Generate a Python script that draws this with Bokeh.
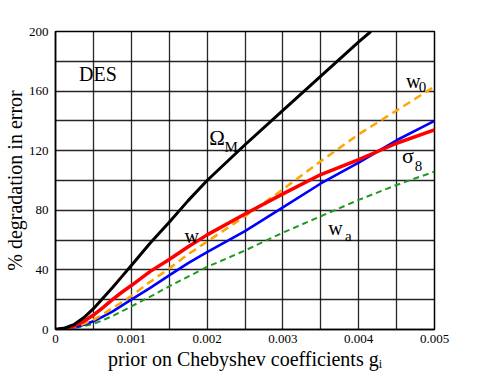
from bokeh.plotting import figure
from bokeh.models import Range1d, FixedTicker
from bokeh.core.properties import value
from bokeh.embed import file_html
from bokeh.resources import INLINE

# ---- data ----
x_vals = [0, 0.000125, 0.00025, 0.000375, 0.0005, 0.000625, 0.00075, 0.000875, 0.001,
          0.00125, 0.0015, 0.00175, 0.002, 0.0025, 0.003, 0.0035, 0.004, 0.0045, 0.005]
omega_x = [0, 0.000125, 0.00025, 0.000375, 0.0005, 0.000625, 0.00075, 0.000875, 0.001,
           0.00125, 0.0015, 0.00175, 0.002, 0.0025, 0.003, 0.0035, 0.004, 0.00416]
omega_m = [0, 1, 3.5, 8, 14, 21, 28, 35.5, 43, 58, 72, 86.5, 100, 124, 147, 170, 193, 200]
red_w = [0, 0.7, 2.5, 5.5, 9.7, 14.7, 20, 25, 29.5, 39, 47, 55.5, 63.5, 77.5, 91, 104, 114, 125, 134]
orange_w0 = [0, 0.5, 1.8, 3.8, 6.5, 10.2, 14.2, 18.3, 22.5, 32, 41, 50.5, 59, 76, 94, 113, 131, 147, 163]
blue_s8 = [0, 0.4, 1.5, 3.2, 5.5, 8.7, 12, 16, 20, 28, 36.3, 44.5, 52, 66, 82, 98, 112, 127, 140]
green_wa = [0, 0.3, 1, 2.2, 3.8, 6.2, 9, 12.2, 15.5, 22, 29, 35.5, 42, 53, 65, 76, 87, 97, 106]

x_ticks = [0, 0.001, 0.002, 0.003, 0.004, 0.005]
x_tick_labels = ["0", "0.001", "0.002", "0.003", "0.004", "0.005"]
x_grid = [0.0005 * i for i in range(11)]
y_ticks = [0, 40, 80, 120, 160, 200]
y_grid = [20 * i for i in range(11)]

# curve labels: main text and subscripts
main_text = ["DES", "Ω", "w", "σ", "w", "w"]
main_x = [0.000311, 0.00203, 0.004623, 0.004571, 0.003597, 0.001701]
main_y = [171.7, 128.3, 166.9, 116.6, 68.3, 62.5]
main_size = ["20px", "21px", "20px", "22px", "20px", "20px"]
sub_text = ["M", "0", "8", "a"]
sub_x = [0.002228, 0.004792, 0.00474, 0.003818]
sub_y = [122.3, 162.8, 109.7, 62.8]

FONT = "Liberation Serif"

p = figure(width=469, height=372, output_backend="svg", toolbar_location=None,
           x_range=Range1d(0, 0.005), y_range=Range1d(0, 200),
           min_border_left=0, min_border_right=35, min_border_top=31, min_border_bottom=0)
p.background_fill_color = "white"
p.border_fill_color = "white"
p.outline_line_color = "black"
p.outline_line_width = 1.5
p.outline_line_alpha = 1

for ax in (p.xaxis[0], p.yaxis[0]):
    ax.major_tick_in = 0
    ax.major_tick_out = 0
    ax.minor_tick_in = 0
    ax.minor_tick_out = 0
    ax.axis_line_color = "black"
    ax.axis_line_width = 1.5
    ax.major_label_text_font = FONT
    ax.major_label_text_font_size = "13px"
    ax.major_label_text_color = "black"
    ax.axis_label_text_font = FONT
    ax.axis_label_text_font_size = "20px"
    ax.axis_label_text_font_style = "normal"
    ax.axis_label_text_color = "black"

p.xaxis[0].ticker = FixedTicker(ticks=x_ticks)
p.xaxis[0].major_label_overrides = {t: s for t, s in zip(x_ticks, x_tick_labels)}
p.xaxis[0].major_label_standoff = 5
p.xaxis[0].axis_label = "prior on Chebyshev coefficients gᵢ"
p.xaxis[0].axis_label_standoff = 2
p.yaxis[0].ticker = FixedTicker(ticks=y_ticks)
p.yaxis[0].major_label_standoff = 7
p.yaxis[0].axis_label = "% degradation in error"
p.yaxis[0].axis_label_standoff = 0

p.xgrid.ticker = FixedTicker(ticks=x_grid)
p.ygrid.ticker = FixedTicker(ticks=y_grid)
for g in (p.xgrid[0], p.ygrid[0]):
    g.grid_line_color = "black"
    g.grid_line_width = 1.3
    g.grid_line_alpha = 0.85

p.line(x_vals, green_wa, line_color="#1f9a1f", line_width=2, line_dash="6 4", line_join="round")
p.line(x_vals, blue_s8, line_color="#0000ff", line_width=2.6, line_join="round")
p.line(x_vals, orange_w0, line_color="#ffa500", line_width=2.5, line_dash="8 5", line_join="round")
p.line(x_vals, red_w, line_color="#ff0000", line_width=3.5, line_join="round")
p.line(omega_x, omega_m, line_color="black", line_width=3, line_join="round")

p.text(x=main_x, y=main_y, text=main_text, text_font=value(FONT),
       text_font_size=main_size, text_color="black", text_baseline="alphabetic")
p.text(x=sub_x, y=sub_y, text=sub_text, text_font=value(FONT),
       text_font_size="15px", text_color="black", text_baseline="alphabetic")

open("out.html", "w").write(file_html(p, INLINE))
